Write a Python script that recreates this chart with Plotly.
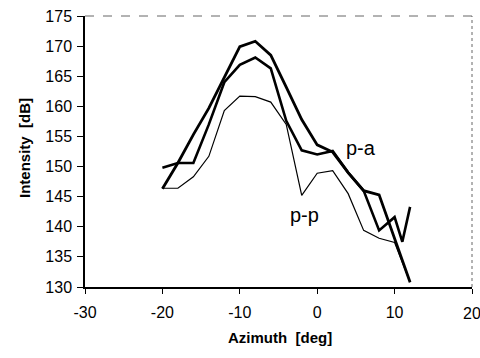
import plotly.graph_objects as go

# Data
x_pa = [-20, -18, -16, -14, -12, -10, -8, -6, -4, -2, 0, 2, 4, 6, 8, 10, 12]
y_pa = [146.3, 150.6, 155.3, 159.7, 164.8, 169.9, 170.8, 168.5, 163.2, 157.8, 153.6, 152.4, 149.0, 146.0, 145.3, 138.0, 130.8]

x_aa = [-20, -18, -16, -14, -12, -10, -8, -6, -4, -2, 0, 2, 4, 6, 8, 10, 11, 12]
y_aa = [149.8, 150.6, 150.6, 157.0, 164.0, 166.9, 168.1, 166.3, 157.6, 152.7, 152.0, 152.6, 149.0, 146.0, 139.4, 141.6, 137.5, 143.3]

x_pp = [-20, -18, -16, -14, -12, -10, -8, -6, -4, -2, 0, 2, 4, 6, 8, 10, 12]
y_pp = [146.4, 146.4, 148.3, 151.7, 159.3, 161.7, 161.6, 160.7, 157.0, 145.2, 148.9, 149.3, 145.5, 139.4, 138.1, 137.4, 130.8]

x_ticks = [-30, -20, -10, 0, 10]
x_edge_tick = 20
y_ticks = [130, 135, 140, 145, 150, 155, 160, 165, 170, 175]

labels = ["p-a", "p-p"]
label_x = [5.7, -1.7]
label_y = [153.1, 142.0]

FONT = "Liberation Sans, Arial, sans-serif"

fig = go.Figure()
fig.add_trace(go.Scatter(x=x_pp, y=y_pp, mode="lines", line=dict(color="black", width=1.2), showlegend=False))
fig.add_trace(go.Scatter(x=x_aa, y=y_aa, mode="lines", line=dict(color="black", width=2.6), showlegend=False))
fig.add_trace(go.Scatter(x=x_pa, y=y_pa, mode="lines", line=dict(color="black", width=2.8), showlegend=False))

for t, lx, ly in zip(labels, label_x, label_y):
    fig.add_annotation(x=lx, y=ly, text=t, showarrow=False,
                       font=dict(family=FONT, size=20, color="black"))

# right-most x tick label (partly cut by the page edge, as in the reference)
fig.add_annotation(x=x_edge_tick, xref="x", yref="paper", y=0, yshift=-16, text=str(x_edge_tick),
                   showarrow=False, yanchor="top", xanchor="center",
                   font=dict(family=FONT, size=16, color="black"))

# axis titles
fig.add_annotation(xref="paper", yref="paper", x=-0.155, y=0.513, text="<b>Intensity  [dB]</b>",
                   textangle=-90, showarrow=False, xanchor="center", yanchor="middle",
                   font=dict(family=FONT, size=15, color="black"))
fig.add_annotation(xref="paper", yref="paper", x=0.504, y=-0.185, text="<b>Azimuth  [deg]</b>",
                   showarrow=False, xanchor="center", yanchor="middle",
                   font=dict(family=FONT, size=15, color="black"))

# top and right frame (dashed / dotted)
fig.add_shape(type="line", xref="paper", yref="paper", x0=0, x1=1, y0=1, y1=1,
              line=dict(color="#666666", width=1, dash="dash"))
fig.add_shape(type="line", xref="paper", yref="paper", x0=1, x1=1, y0=0, y1=1,
              line=dict(color="#666666", width=1, dash="dot"))

fig.update_xaxes(range=[-30, 20], tickvals=x_ticks + [x_edge_tick],
                 ticktext=[str(v) for v in x_ticks] + [""],
                 showgrid=False, zeroline=False, showline=True, linecolor="black", linewidth=1.5,
                 ticks="outside", ticklen=5, tickcolor="black", tickwidth=1, ticklabelstandoff=5,
                 tickfont=dict(family=FONT, size=16, color="black"))
fig.update_yaxes(range=[130, 175], tickvals=y_ticks, ticktext=[str(v) for v in y_ticks],
                 showgrid=False, zeroline=False, showline=True, linecolor="black", linewidth=1.5,
                 ticks="outside", ticklen=6, tickcolor="black", tickwidth=1, ticklabelstandoff=2,
                 tickfont=dict(family=FONT, size=16, color="black"))

fig.update_layout(width=480, height=358, margin=dict(l=85, r=8, t=12, b=71),
                  plot_bgcolor="white", paper_bgcolor="white")

fig.write_html("out.html")
